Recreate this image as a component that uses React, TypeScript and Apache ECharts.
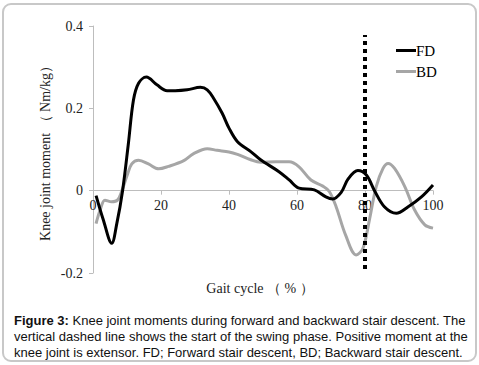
import React, { useEffect, useRef } from "react";
import * as echarts from "echarts";

const xTicks = [0, 20, 40, 60, 80, 100];
const yTicks = [-0.2, 0, 0.2, 0.4];

const fdPct = [0.9, 3, 5.5, 7, 8.7, 10.4, 11.9, 13.4, 15.7, 18.8, 21.8, 24.2, 27.7, 31.6, 33.6, 35.5, 38, 40, 42.5, 46.4, 49.3, 54.7, 57.7, 60.6, 65.1, 68.5, 70.5, 73, 75, 77.9, 80.4, 82.8, 85.7, 89.2, 92.7, 96.6, 100];
const fdMoment = [-0.012, -0.07, -0.128, -0.08, 0, 0.114, 0.22, 0.261, 0.276, 0.257, 0.243, 0.243, 0.245, 0.251, 0.245, 0.224, 0.188, 0.152, 0.119, 0.095, 0.075, 0.046, 0.026, 0.006, 0.002, -0.015, -0.02, -0.004, 0.028, 0.049, 0.038, 0, -0.039, -0.055, -0.039, -0.015, 0.014];

const bdPct = [0.9, 2.1, 3.5, 5.5, 7.2, 8.5, 10, 11.4, 13.4, 16.3, 19.3, 22.2, 26.7, 29.6, 33.6, 36.5, 40, 42.5, 46.4, 49.3, 53.8, 57.7, 60.6, 64.1, 67.6, 69.5, 71.5, 74.3, 77.4, 79.4, 81.3, 83.3, 85.3, 86.8, 88.7, 91.7, 94.6, 97.6, 100];
const bdMoment = [-0.08, -0.047, -0.023, -0.027, -0.023, 0, 0.036, 0.065, 0.074, 0.065, 0.053, 0.059, 0.073, 0.09, 0.102, 0.098, 0.094, 0.088, 0.075, 0.069, 0.07, 0.07, 0.058, 0.026, 0.011, -0.002, -0.039, -0.108, -0.156, -0.14, -0.071, 0.01, 0.054, 0.066, 0.054, 0.01, -0.047, -0.083, -0.091];

const swingStart = 80;
const swingLineRange = [-0.19, 0.378];

const seriesNames = ["FD", "BD"];
const yAxisTitle = "Knee joint moment （ Nm/kg）";
const xAxisTitle = "Gait cycle （ % ）";
const captionLines = [
  "{b|Figure 3:} Knee joint moments during forward and backward stair descent. The",
  "vertical dashed line shows the start of the swing phase. Positive moment at the",
  "knee joint is extensor. FD; Forward stair descent, BD; Backward stair descent.",
];

const serif = "Liberation Serif";
const sans = "Liberation Sans";

const GRID_TOP = 26;
const GRID_BOTTOM = 92;
const CHART_H = 365;

export default function App() {
  const ref = useRef<HTMLDivElement>(null);
  useEffect(() => {
    document.body.style.margin = "0";
    const chart = echarts.init(ref.current!, null, { renderer: "svg" });
    const fdData = fdPct.map((x, i) => [x, fdMoment[i]]);
    const bdData = bdPct.map((x, i) => [x, bdMoment[i]]);
    const yMin = yTicks[0];
    const yMax = yTicks[yTicks.length - 1];
    const gridH = CHART_H - GRID_TOP - GRID_BOTTOM;
    const zeroOffset = (gridH * (0 - yMin)) / (yMax - yMin);
    chart.setOption({
      animation: false,
      backgroundColor: "#fff",
      grid: { left: 93, right: 46, top: GRID_TOP, bottom: GRID_BOTTOM },
      legend: {
        orient: "vertical",
        left: 391,
        top: 38,
        icon: "rect",
        itemWidth: 20,
        itemHeight: 3,
        itemGap: 6,
        data: seriesNames,
        textStyle: { fontFamily: serif, fontSize: 15, color: "#000", padding: [0, 0, 0, -5] },
      },
      xAxis: {
        type: "value",
        min: xTicks[0],
        max: xTicks[xTicks.length - 1],
        interval: 20,
        position: "bottom",
        offset: -zeroOffset,
        axisLine: { onZero: false, lineStyle: { color: "#bdbdbd", width: 1 } },
        axisTick: { show: true, length: 4, lineStyle: { color: "#bdbdbd" } },
        axisLabel: { fontFamily: serif, fontSize: 14, color: "#222", margin: 8 },
        splitLine: { show: false },
      },
      yAxis: {
        type: "value",
        min: yMin,
        max: yMax,
        interval: 0.2,
        axisLine: { show: true, onZero: false, lineStyle: { color: "#bdbdbd", width: 1 } },
        axisTick: { show: true, length: 4, lineStyle: { color: "#bdbdbd" } },
        axisLabel: { fontFamily: serif, fontSize: 14, color: "#222", margin: 10 },
        splitLine: { show: false },
      },
      series: [
        {
          name: seriesNames[0],
          type: "line",
          data: fdData,
          smooth: 0.35,
          symbol: "none",
          lineStyle: { color: "#000", width: 3 },
          itemStyle: { color: "#000" },
          z: 3,
        },
        {
          name: seriesNames[1],
          type: "line",
          data: bdData,
          smooth: 0.35,
          symbol: "none",
          lineStyle: { color: "#a6a6a6", width: 3 },
          itemStyle: { color: "#a6a6a6" },
          z: 2,
        },
        {
          name: "swing",
          type: "line",
          data: [
            [swingStart, swingLineRange[0]],
            [swingStart, swingLineRange[1]],
          ],
          symbol: "none",
          lineStyle: { color: "#000", width: 4, type: [4, 4] },
          z: 4,
        },
      ],
      graphic: [
        {
          type: "rect",
          shape: { x: 3, y: 4, width: 473, height: 357, r: 8 },
          style: { fill: "none", stroke: "#c8c8c8", lineWidth: 2 },
          silent: true,
        },
        {
          type: "text",
          x: 45,
          y: 150,
          rotation: Math.PI / 2,
          style: {
            text: yAxisTitle,
            fontFamily: serif,
            fontSize: 14,
            fill: "#222",
            align: "center",
            verticalAlign: "middle",
          },
        },
        {
          type: "text",
          x: 260,
          y: 288,
          style: {
            text: xAxisTitle,
            fontFamily: serif,
            fontSize: 14,
            fill: "#222",
            align: "center",
            verticalAlign: "middle",
          },
        },
        ...captionLines.map((line, i) => ({
          type: "text",
          x: 14,
          y: 320 + i * 16.3,
          style: {
            text: line,
            fontFamily: sans,
            fontSize: 13,
            fill: "#111",
            align: "left",
            verticalAlign: "middle",
            rich: { b: { fontFamily: sans, fontSize: 13, fontWeight: "bold", fill: "#111" } },
          },
        })),
      ],
    });
    return () => chart.dispose();
  }, []);
  return <div ref={ref} style={{ width: 479, height: 365 }} />;
}
